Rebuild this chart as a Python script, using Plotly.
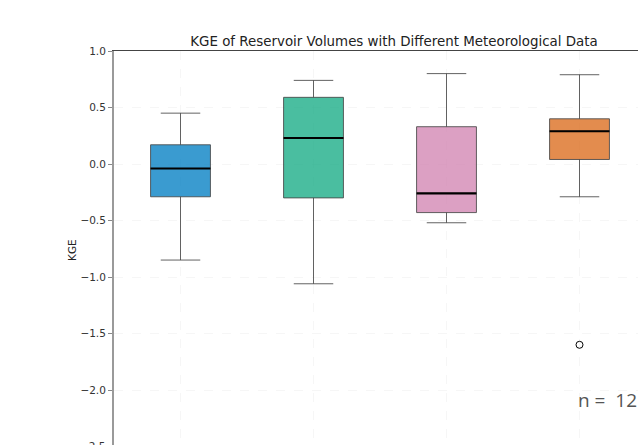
import plotly.graph_objects as go

# ---- data ----
groups = ["A", "B", "C", "D"]
positions = [1, 2, 3, 4]
upper_whisker = [0.45, 0.74, 0.80, 0.79]
q3_vals = [0.17, 0.59, 0.33, 0.40]
medians = [-0.04, 0.23, -0.26, 0.29]
q1_vals = [-0.29, -0.30, -0.43, 0.04]
lower_whisker = [-0.85, -1.06, -0.52, -0.29]
outlier_x = [4]
outlier_y = [-1.60]
fill_colors = ["rgba(9,130,196,0.8)", "rgba(29,174,136,0.8)",
               "rgba(211,136,180,0.8)", "rgba(220,111,34,0.8)"]
y_ticks = [1.0, 0.5, 0.0, -0.5, -1.0, -1.5, -2.0]
hidden_tick = -2.5
n_label = "n =\u00a0 12"
title_text = "KGE of Reservoir Volumes with Different Meteorological Data"

W, H = 638, 445
L, T = 114, 51
PW, PH = W - L, H - T
PX_X = 133.0   # pixels per category
PX_Y = 113.0   # pixels per unit KGE
Y_MIN = 1.0 - PH / PX_Y
GRID = "rgba(0,0,0,0.035)"

BOX_W = 0.45
fig = go.Figure()
for i in range(len(groups)):
    fig.add_trace(go.Box(
        x=[positions[i]], q1=[q1_vals[i]], median=[medians[i]], q3=[q3_vals[i]],
        lowerfence=[lower_whisker[i]], upperfence=[upper_whisker[i]],
        width=BOX_W, whiskerwidth=0.66, fillcolor=fill_colors[i],
        line=dict(color="rgba(70,70,70,0.85)", width=1),
        boxpoints=False, showlegend=False, hoverinfo="skip",
    ))
    fig.add_trace(go.Scatter(
        x=[positions[i] - BOX_W / 2, positions[i] + BOX_W / 2],
        y=[medians[i], medians[i]], mode="lines",
        line=dict(color="black", width=2.2), showlegend=False, hoverinfo="skip",
    ))

fig.add_trace(go.Scatter(
    x=outlier_x, y=outlier_y, mode="markers",
    marker=dict(symbol="circle-open", size=7, color="black", line=dict(width=1)),
    showlegend=False, hoverinfo="skip",
))

fig.add_annotation(x=3.975, y=-2.09, xref="x", yref="y", text=n_label,
                   showarrow=False, xanchor="left", yanchor="middle",
                   font=dict(family="Open Sans", size=19, color="#555555"))
# tick label just below the visible area (only its top shows in the reference)
fig.add_annotation(x=-0.012, y=(hidden_tick - Y_MIN) / (1.0 - Y_MIN), xref="paper", yref="paper",
                   text="\u22122.5", showarrow=False, xanchor="right", yanchor="middle",
                   font=dict(family="DejaVu Sans", size=10.5, color="#333333"))
fig.add_annotation(x=(72 - L) / PW, y=(PH - (250 - T)) / PH, xref="paper", yref="paper",
                   text="KGE", textangle=-90, showarrow=False,
                   xanchor="center", yanchor="middle",
                   font=dict(family="DejaVu Sans", size=10.5, color="#222222"))

fig.update_layout(
    width=W, height=H,
    margin=dict(l=L, r=0, t=T, b=0),
    paper_bgcolor="white", plot_bgcolor="white",
    font=dict(family="DejaVu Sans", size=10.5, color="#333333"),
    title=dict(text=title_text, x=394 / W, xref="container", xanchor="center",
               y=1 - 41 / H, yref="container", yanchor="middle",
               font=dict(family="DejaVu Sans", size=13.4, color="#222222")),
    xaxis=dict(range=[0.5, 0.5 + PW / PX_X], side="top", tickvals=positions,
               showticklabels=False, ticks="", showline=True, linecolor="#444444",
               linewidth=1, showgrid=True, gridcolor=GRID,
               griddash="dash", gridwidth=1, zeroline=False),
    yaxis=dict(range=[Y_MIN, 1.0], tickvals=y_ticks,
               ticktext=[("\u2212" if v < 0 else "") + f"{abs(v):.1f}" for v in y_ticks],
               ticks="outside", ticklen=4, tickcolor="#888888", showline=True,
               linecolor="#9a9a9a", linewidth=2, showgrid=True,
               gridcolor=GRID, griddash="dash", gridwidth=1,
               zeroline=False),
)

fig.write_html(
    "out.html",
    config={"displayModeBar": False},
    post_script="document.body.style.margin='0';document.body.style.overflow='hidden';",
)
